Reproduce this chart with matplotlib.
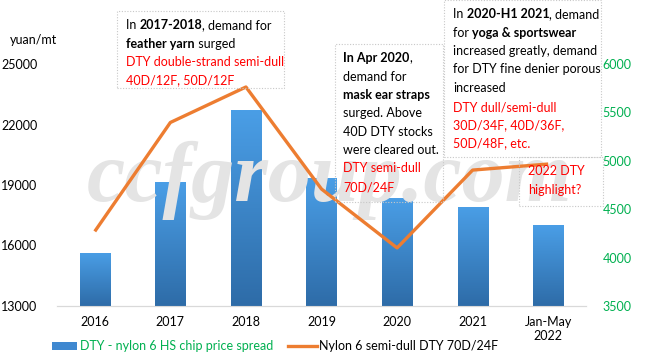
import numpy as np
import matplotlib.pyplot as plt
from matplotlib.patches import Rectangle
from matplotlib.colors import LinearSegmentedColormap

plt.rcParams['font.family'] = ['Lato', 'DejaVu Sans']

# data
categories = ["2016", "2017", "2018", "2019", "2020", "2021", "Jan-May\n2022"]
spread = [4050, 4780, 5520, 4820, 4615, 4525, 4335]          # right axis, bars
dty_price = [16700, 22100, 23860, 18800, 15880, 19740, 20040]  # left axis, line

left_ticks = [13000, 16000, 19000, 22000, 25000]
right_ticks = [3500, 4000, 4500, 5000, 5500, 6000]

GREEN = '#00B050'
RED = '#FF0000'
ORANGE = '#ED7D31'

W, H = 647, 360
fig = plt.figure(figsize=(W / 100, H / 100), dpi=100)
ax_l = fig.add_axes([57 / W, 1 - 306 / H, (586 - 57) / W, (306 - 64) / H])
ax_r = ax_l.twinx()
ax_l.set_zorder(ax_r.get_zorder() + 1)
ax_l.patch.set_visible(False)

x = np.arange(len(categories))

# watermark behind everything
fig.text(330 / W, 1 - 180 / H, "ccfgroup.com", family='Liberation Serif', style='italic',
         weight='bold', fontsize=62, color='#e4e4e4', ha='center', va='center', zorder=0)

# bars with vertical gradient
cmap = LinearSegmentedColormap.from_list('bl', ['#2E6CA8', '#4A9EE6'])
grad = np.linspace(0, 1, 100).reshape(-1, 1)
bars = ax_r.bar(x, spread, width=0.4, color='#3F88D0', zorder=2)
for b in bars:
    bx, by = b.get_x(), 3500
    im = ax_r.imshow(grad, extent=[bx, bx + b.get_width(), by, b.get_height()],
                     origin='lower', aspect='auto', cmap=cmap, zorder=3)
    im.set_clip_path(b)
ax_r.set_xlim(-0.5, len(categories) - 0.5)
ax_r.set_ylim(3500, 6000)
ax_r.set_yticks(right_ticks)
ax_r.tick_params(axis='y', colors=GREEN, labelsize=9, length=0, pad=12)

line, = ax_l.plot(x, dty_price, color=ORANGE, lw=2.4, solid_capstyle='butt', zorder=5)
ax_l.set_ylim(13000, 25000)
ax_l.set_yticks(left_ticks)
ax_l.set_xticks(x)
ax_l.set_xticklabels(categories)
ax_l.tick_params(axis='y', labelsize=9, length=0, pad=14)
ax_l.tick_params(axis='x', labelsize=9, length=0, pad=7)

for a in (ax_l, ax_r):
    for s in ('top', 'left', 'right'):
        a.spines[s].set_visible(False)
    a.spines['bottom'].set_color('#d9d9d9')

fig.text(10 / W, 1 - 40 / H, "yuan/mt", fontsize=9, va='center')

# legend
fig.patches.append(Rectangle((52 / W, 1 - 350 / H), 25 / W, 8 / H, transform=fig.transFigure,
                             facecolor='#3F88D0', edgecolor='none'))
fig.text(80 / W, 1 - 346 / H, "DTY - nylon 6 HS chip price spread", fontsize=9, color=GREEN, va='center')
fig.lines.append(plt.Line2D([288 / W, 317 / W], [1 - 346 / H, 1 - 346 / H], transform=fig.transFigure,
                            color=ORANGE, lw=2.4))
fig.text(319 / W, 1 - 346 / H, "Nylon 6 semi-dull DTY 70D/24F", fontsize=9, va='center')

# annotation boxes
renderer = fig.canvas.get_renderer()


def box(x0, y0, x1, y1):
    fig.patches.append(Rectangle((x0 / W, 1 - y1 / H), (x1 - x0) / W, (y1 - y0) / H,
                                 transform=fig.transFigure, facecolor='none',
                                 edgecolor='#c8c8c8', lw=0.8, ls=(0, (1, 1.5)), zorder=1))


def rich(px, py, parts):
    for txt, bold, col in parts:
        t = fig.text(px / W, 1 - py / H, txt, fontsize=9, color=col, va='center',
                     weight='bold' if bold else 'normal', zorder=6)
        bb = t.get_window_extent(renderer)
        px += bb.width


K = 'black'
box(117, 11, 284, 88)
rich(126, 25, [("In ", False, K), ("2017-2018", True, K), (", demand for", False, K)])
rich(126, 44, [("feather yarn", True, K), (" surged", False, K)])
rich(126, 62, [("DTY double-strand semi-dull", False, RED)])
rich(126, 80, [("40D/12F, 50D/12F", False, RED)])

box(335, 44, 443, 202)
rich(343, 58, [("In Apr 2020", True, K), (",", False, K)])
rich(343, 77, [("demand for", False, K)])
rich(343, 95, [("mask ear straps", True, K)])
rich(343, 113, [("surged. Above", False, K)])
rich(343, 132, [("40D DTY stocks", False, K)])
rich(343, 150, [("were cleared out.", False, K)])
rich(343, 168, [("DTY semi-dull", False, RED)])
rich(343, 187, [("70D/24F", False, RED)])

box(444, 0, 601, 157)
rich(453, 14, [("In ", False, K), ("2020-H1 2021", True, K), (", demand", False, K)])
rich(453, 33, [("for ", False, K), ("yoga & sportswear", True, K)])
rich(453, 51, [("increased greatly, demand", False, K)])
rich(453, 69, [("for DTY fine denier porous", False, K)])
rich(453, 88, [("increased", False, K)])
rich(453, 107, [("DTY dull/semi-dull", False, RED)])
rich(453, 125, [("30D/34F, 40D/36F,", False, RED)])
rich(453, 143, [("50D/48F, etc.", False, RED)])

box(519, 157, 603, 206)
rich(528, 171, [("2022 DTY", False, RED)])
rich(528, 190, [("highlight?", False, RED)])

fig.savefig('out.png', dpi=100)
